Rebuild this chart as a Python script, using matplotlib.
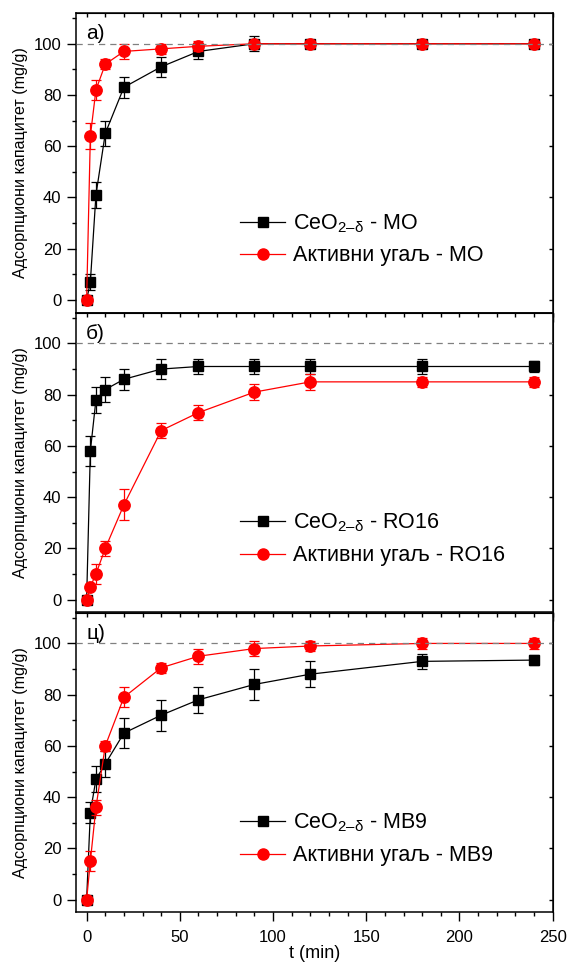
import numpy as np
import matplotlib
matplotlib.use('Agg')
from matplotlib import pyplot as plt
from matplotlib.ticker import MultipleLocator
from matplotlib.lines import Line2D

plt.rcParams['font.family'] = ['Liberation Sans', 'DejaVu Sans']
plt.rcParams['mathtext.fontset'] = 'custom'
plt.rcParams['mathtext.rm'] = 'Liberation Sans'
plt.rcParams['mathtext.it'] = 'Liberation Sans:italic'

# vreme (min)
t = [0, 2, 5, 10, 20, 40, 60, 90, 120, 180, 240]

# a) MO
ceo_mo = [0, 7, 41, 65, 83, 91, 97, 100, 100, 100, 100]
ceo_mo_err = [1, 3, 5, 5, 4, 4, 3, 3, 1, 1, 1]
ug_mo = [0, 64, 82, 92, 97, 98, 99, 100, 100, 100, 100]
ug_mo_err = [1, 5, 4, 2, 3, 2, 2, 1, 1, 1, 1]

# б) RO16
ceo_ro = [0, 58, 78, 82, 86, 90, 91, 91, 91, 91, 91]
ceo_ro_err = [1, 6, 5, 5, 4, 4, 3, 3, 3, 3, 2]
ug_ro = [0, 5, 10, 20, 37, 66, 73, 81, 85, 85, 85]
ug_ro_err = [1, 1, 4, 3, 6, 3, 3, 3, 3, 2, 2]

# ц) MB9
ceo_mb = [0, 34, 47, 53, 65, 72, 78, 84, 88, 93, 93.5]
ceo_mb_err = [1, 4, 5, 5, 6, 6, 5, 6, 5, 3, 2]
ug_mb = [0, 15, 36, 60, 79, 90.5, 95, 98, 99, 100, 100]
ug_mb_err = [1, 4, 3, 2, 4, 2, 3, 3, 2, 2, 2]

panels = [
    ('a)', 'MO', ceo_mo, ceo_mo_err, ug_mo, ug_mo_err),
    ('б)', 'RO16', ceo_ro, ceo_ro_err, ug_ro, ug_ro_err),
    ('ц)', 'MB9', ceo_mb, ceo_mb_err, ug_mb, ug_mb_err),
]

fig = plt.figure(figsize=(5.67, 9.65), dpi=100)
left, width = 76 / 567, 476.7 / 567
tops = [13, 312.7, 612.7]
h = 299.7

for i, (lab, dye, c, ce, u, ue) in enumerate(panels):
    ax = fig.add_axes([left, 1 - (tops[i] + h) / 965, width, h / 965])
    ax.errorbar(t, c, yerr=ce, color='black', marker='s', ms=7.5, lw=0.9,
                capsize=3.5, elinewidth=0.9, capthick=0.9, zorder=3)
    ax.errorbar(t, u, yerr=ue, color='red', marker='o', ms=8.2, lw=0.9,
                capsize=3.5, elinewidth=0.9, capthick=0.9, zorder=4)
    ax.axhline(100, color='gray', ls=(0, (5, 4)), lw=0.9, zorder=5)
    ax.set_xlim(-5.7, 250)
    ax.set_ylim(-5, 112)
    ax.xaxis.set_major_locator(MultipleLocator(50))
    ax.xaxis.set_minor_locator(MultipleLocator(10))
    ax.yaxis.set_major_locator(MultipleLocator(20))
    ax.yaxis.set_minor_locator(MultipleLocator(10))
    ax.tick_params(axis='both', which='major', direction='out', length=6.5,
                   width=1, labelsize=12)
    ax.tick_params(axis='x', which='major', pad=6)
    ax.tick_params(axis='y', which='major', pad=4)
    ax.tick_params(axis='both', which='minor', direction='out', length=3, width=1)
    # gornje i desne crtice unutra
    sec = ax.secondary_xaxis('top')
    sec.xaxis.set_major_locator(MultipleLocator(10))
    sec.tick_params(direction='in', length=3, width=1, labeltop=False)
    sec2 = ax.secondary_yaxis('right')
    sec2.yaxis.set_major_locator(MultipleLocator(20))
    sec2.tick_params(direction='in', length=3, width=1, labelright=False)
    for s in ax.spines.values():
        s.set_linewidth(1.1)
    if i < 2:
        ax.tick_params(axis='x', labelbottom=False)
    else:
        ax.set_xlabel('t (min)', fontsize=13, labelpad=0)
    ax.set_ylabel('Адсорпциони капацитет (mg/g)', fontsize=11.6, labelpad=4)
    ax.text(0.021, 0.963, lab, transform=ax.transAxes, fontsize=15,
            ha='left', va='top')
    handles = [
        Line2D([], [], color='black', marker='s', ms=7, lw=0.9),
        Line2D([], [], color='red', marker='o', ms=8, lw=0.9),
    ]
    labels = [r'CeO$_{\mathregular{2–\delta}}$ - ' + dye, 'Активни угаљ - ' + dye]
    ax.legend(handles, labels, loc='center left', bbox_to_anchor=(0.344, 0.245),
              frameon=False, fontsize=15.5, handlelength=2.1,
              handletextpad=0.37, labelspacing=0.5, borderpad=0,
              borderaxespad=0)

fig.savefig('out.png', dpi=100)
